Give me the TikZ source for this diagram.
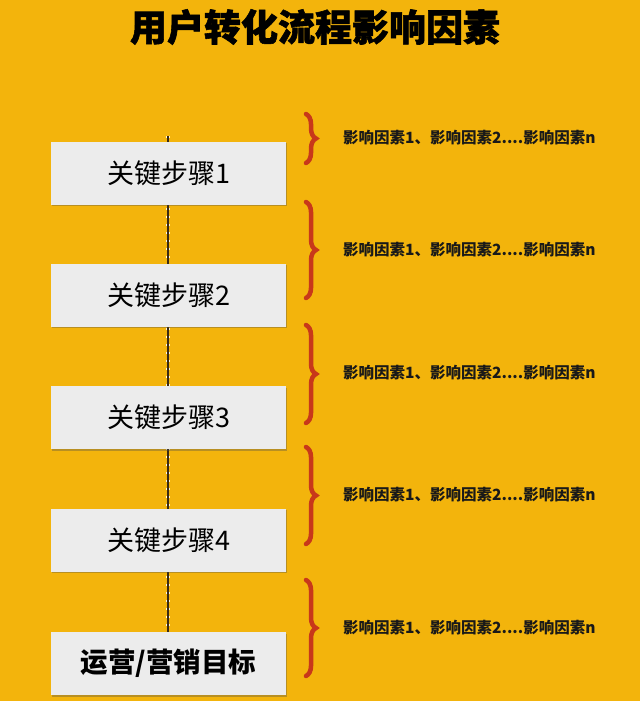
\documentclass[tikz,border=0pt]{standalone}
\usepackage{fontspec}
\newfontfamily\cjk{Noto Sans CJK SC}
\newfontfamily\cjkheavy{Noto Sans CJK SC}[BoldFeatures={FakeBold=1.5}]
\usetikzlibrary{decorations.pathreplacing,shadows}
\definecolor{bg}{HTML}{F3B40C}
\definecolor{boxfill}{HTML}{ECECEC}
\definecolor{bracered}{HTML}{C8381A}
\definecolor{linedark}{HTML}{3A2A12}
\tikzset{
  stepbox/.style={draw=none, fill=boxfill, minimum width=235pt, minimum height=63pt,
    inner sep=0pt, font=\cjk\fontsize{27}{27}\selectfont,
    drop shadow={shadow xshift=1pt, shadow yshift=-1.5pt, opacity=0.35, fill=black!70}},
  goalbox/.style={stepbox, font=\cjk\bfseries\fontsize{27.5}{27.5}\selectfont},
  factor/.style={anchor=west, inner sep=0pt, font=\cjk\bfseries\fontsize{15.5}{15.5}\selectfont, text=black!90},
  redbrace/.style={draw=bracered, line width=4.5pt, line cap=round,
    decorate, decoration={brace, amplitude=10pt}},
  linkdark/.style={draw=linedark, line width=2pt},
  linklight/.style={draw=white!85!bg, line width=4pt, dash pattern=on 1.5pt off 6.5pt},
}
\begin{document}
\begin{tikzpicture}[x=1pt,y=-1pt]
\fill[bg] (0,0) rectangle (640,701);
\useasboundingbox (0,0) rectangle (640,701);
\node[font=\cjkheavy\bfseries\fontsize{37}{37}\selectfont, inner sep=0pt] (title) at (315,27) {用户转化流程影响因素};
% connector (behind boxes)
\coordinate (ltop) at (168,136);
\coordinate (lbot) at (168,640);
\draw[linklight] (ltop) -- (lbot);
\draw[linkdark] (ltop) -- (lbot);
% boxes
\node[stepbox] (s1) at (168.5,173) {关键步骤1};
\node[stepbox] (s2) at (168.5,295) {关键步骤2};
\node[stepbox] (s3) at (168.5,417.5) {关键步骤3};
\node[stepbox] (s4) at (168.5,540) {关键步骤4};
\node[goalbox] (s5) at (168.5,663.5) {运营/营销目标};
% braces
\draw[redbrace] (306,114) -- (306,163);
\draw[redbrace] (306,202) -- (306,298);
\draw[redbrace] (306,325) -- (306,423);
\draw[redbrace] (306,447) -- (306,544);
\draw[redbrace] (306,580) -- (306,676);
% factors
\node[factor] (f1) at (343,138) {影响因素1、影响因素2....影响因素n};
\node[factor] (f2) at (343,250) {影响因素1、影响因素2....影响因素n};
\node[factor] (f3) at (343,373) {影响因素1、影响因素2....影响因素n};
\node[factor] (f4) at (343,495) {影响因素1、影响因素2....影响因素n};
\node[factor] (f5) at (343,628) {影响因素1、影响因素2....影响因素n};
\end{tikzpicture}
\end{document}
